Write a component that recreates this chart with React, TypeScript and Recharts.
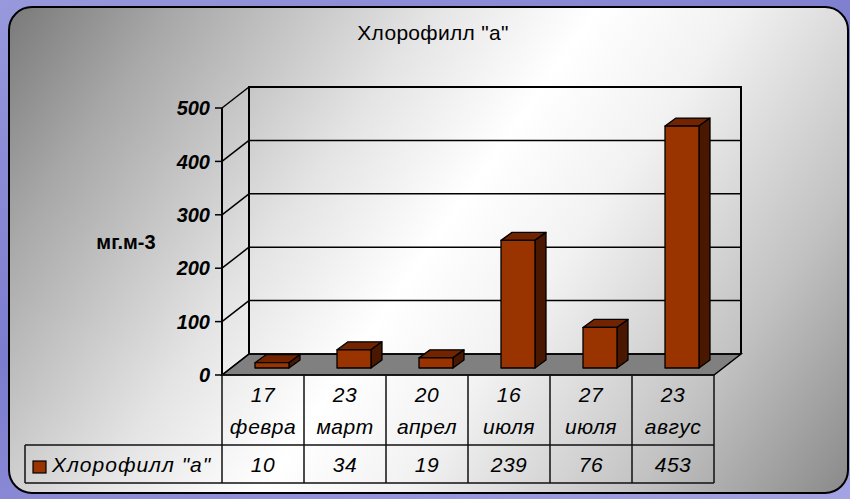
import React from 'react';
import { BarChart, Bar, XAxis, YAxis, CartesianGrid } from 'recharts';

const days = ['17', '23', '20', '16', '27', '23'];
const months = ['февра', 'март', 'апрел', 'июля', 'июля', 'авгус'];
const chlorophyll = [10, 34, 19, 239, 76, 453];
const yTicks = [0, 100, 200, 300, 400, 500];
const seriesName = 'Хлорофилл "а"';
const chartTitle = 'Хлорофилл "а"';
const unitLabel = 'мг.м-3';

const data = days.map((d, i) => ({ day: d, month: months[i], value: chlorophyll[i] }));

// plane where the bar fronts stand; walls and table are offset from it
const W = 850;
const H = 499;
const PLOT_L = 231;
const PLOT_R = 723;
const PLOT_T = 101;
const PLOT_B = 368;
const Y_AXIS_W = 40;
const X_AXIS_H = 40;
const FRONT = { dx: -9, dy: 7 };
const BACK = { dx: 18, dy: -14 };
const BAR_DEPTH = { dx: 11, dy: -8 };
const TABLE_TOP = PLOT_B + FRONT.dy;
const TABLE_MID = 445;
const TABLE_BOT = 483;
const LEGEND_L = 25;
const FONT = '"Liberation Sans", Arial, sans-serif';

const frontL = PLOT_L + FRONT.dx;
const frontR = PLOT_R + FRONT.dx;
const backL = PLOT_L + BACK.dx;
const backR = PLOT_R + BACK.dx;
const backT = PLOT_T + BACK.dy;
const backB = PLOT_B + BACK.dy;

const Bar3D = (props: any) => {
  const { x, y, width, height } = props;
  if (width == null || height == null) return null;
  const { dx, dy } = BAR_DEPTH;
  const r = x + width;
  const b = y + height;
  return (
    <g stroke="#000" strokeWidth={1.3} strokeLinejoin="round">
      <polygon points={`${x},${y} ${x + dx},${y + dy} ${r + dx},${y + dy} ${r},${y}`} fill="#722400" />
      <polygon points={`${r},${y} ${r + dx},${y + dy} ${r + dx},${b + dy} ${r},${b}`} fill="#4a1700" />
      <rect x={x} y={y} width={width} height={height} fill="#993300" />
    </g>
  );
};

// one gridline = tick mark + diagonal on the side wall + line on the back wall
const GridLine = (props: any) => {
  const { x1, x2, y1 } = props;
  const fx = x1 + FRONT.dx;
  const fy = y1 + FRONT.dy;
  const by = y1 + BACK.dy;
  return (
    <g stroke="#000" strokeWidth={1.5}>
      <line x1={fx - 7} y1={fy} x2={fx} y2={fy} />
      <line x1={fx} y1={fy} x2={x1 + BACK.dx} y2={by} />
      <line x1={x1 + BACK.dx} y1={by} x2={x2 + BACK.dx} y2={by} />
    </g>
  );
};

const YTick = (props: any) => {
  const { y, payload } = props;
  return (
    <text
      x={frontL - 12}
      y={y + FRONT.dy}
      dy="0.36em"
      textAnchor="end"
      fontFamily={FONT}
      fontSize={20}
      fontWeight="bold"
      fontStyle="italic"
      fill="#000"
    >
      {payload.value}
    </text>
  );
};

// each category tick draws its column of the data table
const TableColumn = (props: any) => {
  const { x, index } = props;
  const row = data[index];
  if (!row) return null;
  const cw = (PLOT_R - PLOT_L) / data.length;
  const cx = x + FRONT.dx;
  const left = cx - cw / 2;
  const right = cx + cw / 2;
  const txt = {
    fontFamily: FONT,
    fontSize: 21,
    fontStyle: 'italic' as const,
    letterSpacing: 0.5,
    fill: '#000',
    textAnchor: 'middle' as const,
  };
  return (
    <g>
      <g stroke="#111" strokeWidth={1.5}>
        <line x1={left} y1={TABLE_TOP} x2={right} y2={TABLE_TOP} />
        <line x1={left} y1={TABLE_MID} x2={right} y2={TABLE_MID} />
        <line x1={left} y1={TABLE_BOT} x2={right} y2={TABLE_BOT} />
        <line x1={left} y1={TABLE_TOP} x2={left} y2={TABLE_BOT} />
        {index === data.length - 1 && <line x1={right} y1={TABLE_TOP} x2={right} y2={TABLE_BOT} />}
      </g>
      <text x={cx} y={402} {...txt}>{row.day}</text>
      <text x={cx} y={434} {...txt}>{row.month}</text>
      <text x={cx} y={472} {...txt}>{row.value}</text>
    </g>
  );
};

const Walls = () => (
  <svg width={W} height={H} style={{ position: 'absolute', left: 0, top: 0 }}>
    <text x={433} y={40} textAnchor="middle" fontFamily={FONT} fontSize={21} letterSpacing={0.3} fill="#000">
      {chartTitle}
    </text>
    <text x={126} y={249} textAnchor="middle" fontFamily={FONT} fontSize={20} fontWeight="bold" fill="#000">
      {unitLabel}
    </text>
    <polygon
      points={`${frontL},${TABLE_TOP} ${backL},${backB} ${backR},${backB} ${frontR},${TABLE_TOP}`}
      fill="#808080"
      stroke="#000"
      strokeWidth={1.5}
    />
    <polyline
      points={`${backL},${backB} ${backL},${backT} ${backR},${backT} ${backR},${backB}`}
      fill="none"
      stroke="#000"
      strokeWidth={2}
    />
    <line x1={frontL} y1={PLOT_T + FRONT.dy} x2={frontL} y2={TABLE_TOP} stroke="#000" strokeWidth={2} />
    <g stroke="#111" strokeWidth={1.5}>
      <line x1={LEGEND_L} y1={TABLE_MID} x2={frontL} y2={TABLE_MID} />
      <line x1={LEGEND_L} y1={TABLE_BOT} x2={frontL} y2={TABLE_BOT} />
      <line x1={LEGEND_L} y1={TABLE_MID} x2={LEGEND_L} y2={TABLE_BOT} />
    </g>
    <rect x={33} y={461} width={13} height={12} fill="#993300" stroke="#000" strokeWidth={1.2} />
    <text x={52} y={472} fontFamily={FONT} fontSize={21} fontStyle="italic" letterSpacing={1} fill="#000">
      {seriesName}
    </text>
  </svg>
);

export default function App() {
  return (
    <div
      style={{
        position: 'absolute',
        left: 0,
        top: 0,
        width: W,
        height: H,
        overflow: 'hidden',
        background: 'linear-gradient(160deg, #9898dc 0%, #7c7cce 45%, #a4a4e4 100%)',
      }}
    >
      <div
        style={{
          position: 'absolute',
          left: 8,
          top: 6,
          width: 837,
          height: 484,
          border: '2px solid #000',
          borderRadius: 24,
          background:
            'linear-gradient(125deg, #7a7a7a 0%, #a8a8a8 14%, #e4e4e4 36%, #ffffff 50%, #f2f2f2 62%, #c2c2c2 82%, #8a8a8a 100%)',
        }}
      />
      <Walls />
      <div style={{ position: 'absolute', left: 0, top: 0 }}>
        <BarChart
          width={W}
          height={H}
          data={data}
          margin={{ top: PLOT_T, right: W - PLOT_R, bottom: H - PLOT_B - X_AXIS_H, left: PLOT_L - Y_AXIS_W }}
        >
          <CartesianGrid horizontal={GridLine} vertical={false} />
          <XAxis
            dataKey="day"
            height={X_AXIS_H}
            axisLine={false}
            tickLine={false}
            interval={0}
            tick={TableColumn}
          />
          <YAxis
            domain={[0, 500]}
            ticks={yTicks}
            width={Y_AXIS_W}
            axisLine={false}
            tickLine={false}
            interval={0}
            tick={YTick}
          />
          <Bar dataKey="value" barSize={34} shape={Bar3D} isAnimationActive={false} />
        </BarChart>
      </div>
    </div>
  );
}
